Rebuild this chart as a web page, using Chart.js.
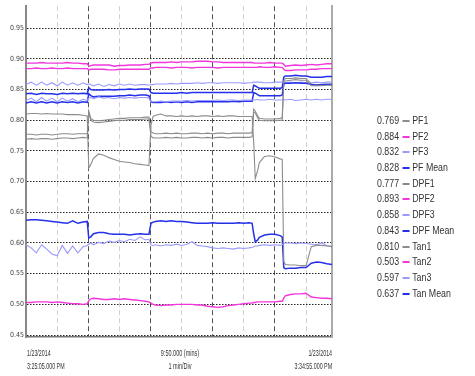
<!DOCTYPE html>
<html><head><meta charset="utf-8">
<script src="https://cdn.jsdelivr.net/npm/chart.js@4/dist/chart.umd.min.js"></script>
<style>
html,body{margin:0;padding:0;background:#fff;width:475px;height:376px;overflow:hidden;}
#c{position:absolute;left:0;top:0;}
.lbl{position:absolute;font-family:'Liberation Sans',Arial,sans-serif;font-size:9.5px;color:#333;white-space:nowrap;line-height:13.3px;}
#legend{position:absolute;left:377px;top:113px;font-family:'Liberation Sans',Arial,sans-serif;font-size:10px;color:#333;}
.row{position:relative;height:15.7px;line-height:15.7px;width:80px;white-space:nowrap;transform:scaleX(0.88);transform-origin:left center;}
.row .v{position:absolute;left:0;top:0;}
.row .s{position:absolute;left:28.5px;top:7px;width:8px;height:2px;}
.row .n{position:absolute;left:40px;top:0;}
</style></head>
<body>
<canvas id="c" width="475" height="376"></canvas>
<div id="legend"></div>
<div class="lbl" id="bl" style="left:27px;top:346px;transform:scaleX(0.56);transform-origin:left top;"></div>
<div class="lbl" id="bc" style="left:80px;width:200px;top:346px;text-align:center;transform:scaleX(0.58);transform-origin:center top;"></div>
<div class="lbl" id="br" style="right:143px;top:346px;text-align:right;transform:scaleX(0.56);transform-origin:right top;"></div>
<script>
// time in seconds from 3:25:05 PM
const times = [
  0,10,20,30,40,50,60,70,80,90,100,110,118,
  121,125,130,140,150,160,170,180,190,200,210,220,230,237,
  241,245,250,260,270,280,290,300,310,320,330,340,350,360,370,380,390,400,410,420,430,436,
  439,442,446,450,460,470,480,490,494,
  497,500,510,520,530,540,550,560,570,580,590];

const pf1 = [
  .769,.770,.769,.770,.770,.769,.770,.771,.771,.770,.771,.772,.771,
  .812,.800,.797,.796,.797,.798,.799,.800,.800,.801,.801,.801,.802,.802,
  .774,.771,.771,.771,.772,.771,.772,.771,.771,.772,.772,.771,.772,.771,.772,.772,.771,.772,.772,.772,.772,.773,
  .813,.812,.805,.800,.799,.799,.799,.800,.800,
  .862,.864,.865,.866,.865,.865,.856,.856,.856,.857,.857];
const pf2 = [
  .884,.884,.885,.884,.884,.885,.884,.884,.885,.884,.884,.884,.884,
  .882,.883,.883,.883,.883,.882,.882,.883,.883,.883,.883,.883,.883,.883,
  .885,.885,.886,.886,.886,.885,.886,.886,.886,.885,.886,.886,.886,.886,.885,.886,.886,.886,.886,.886,.886,.886,
  .886,.886,.886,.887,.886,.886,.887,.886,.886,
  .883,.881,.881,.882,.882,.882,.883,.883,.884,.884,.884];
const pf3 = [
  .832,.836,.830,.837,.831,.836,.830,.836,.831,.835,.830,.834,.832,
  .836,.837,.835,.838,.836,.837,.835,.837,.836,.837,.836,.837,.837,.836,
  .830,.830,.830,.831,.830,.831,.831,.831,.832,.831,.832,.832,.832,.832,.833,.832,.833,.833,.832,.833,.833,.833,
  .833,.833,.834,.833,.833,.834,.833,.833,.833,
  .834,.833,.834,.832,.833,.834,.833,.834,.833,.834,.834];
const pfMean = [
  .828,.830,.828,.830,.828,.830,.828,.830,.829,.830,.828,.830,.829,
  .843,.840,.838,.839,.839,.839,.839,.840,.840,.841,.840,.841,.841,.840,
  .830,.829,.829,.829,.830,.829,.830,.829,.830,.829,.830,.830,.830,.830,.830,.830,.830,.831,.830,.831,.831,.831,
  .845,.844,.842,.840,.840,.840,.840,.840,.841,
  .859,.860,.860,.861,.860,.860,.858,.857,.858,.858,.858];
const dpf1 = [
  .777,.777,.776,.777,.777,.776,.777,.778,.778,.777,.778,.778,.778,
  .815,.803,.800,.799,.800,.801,.802,.803,.803,.804,.804,.804,.805,.805,
  .781,.779,.778,.778,.779,.778,.779,.778,.778,.779,.779,.778,.779,.778,.779,.779,.778,.779,.779,.779,.779,.780,
  .818,.815,.808,.803,.802,.802,.802,.803,.804,
  .864,.868,.868,.869,.868,.868,.859,.858,.858,.859,.859];
const dpf2 = [
  .893,.893,.893,.894,.893,.893,.893,.893,.894,.893,.893,.892,.892,
  .888,.889,.890,.890,.890,.890,.888,.889,.889,.890,.890,.890,.891,.891,
  .893,.894,.894,.894,.894,.895,.894,.895,.895,.895,.896,.896,.896,.895,.895,.894,.894,.894,.894,.894,.894,.894,
  .893,.893,.893,.893,.893,.894,.893,.893,.893,
  .891,.888,.889,.890,.889,.890,.891,.890,.891,.892,.892];
const dpf3 = [
  .858,.862,.857,.862,.857,.861,.856,.862,.857,.861,.857,.861,.858,
  .859,.858,.856,.859,.855,.858,.856,.859,.857,.859,.857,.858,.858,.857,
  .858,.858,.859,.859,.859,.860,.859,.860,.860,.860,.861,.860,.861,.861,.860,.861,.861,.861,.861,.860,.861,.861,
  .862,.862,.862,.862,.861,.861,.862,.862,.862,
  .862,.861,.862,.861,.862,.861,.861,.862,.861,.862,.862];
const dpfMean = [
  .843,.844,.842,.844,.843,.843,.842,.844,.843,.844,.843,.844,.843,
  .853,.850,.849,.849,.849,.850,.849,.850,.850,.851,.850,.851,.851,.851,
  .845,.844,.844,.844,.844,.844,.844,.845,.844,.845,.845,.845,.845,.845,.845,.845,.845,.845,.845,.845,.845,.845,
  .857,.856,.854,.852,.852,.852,.852,.852,.853,
  .870,.872,.872,.873,.872,.872,.870,.870,.870,.871,.871];
const tan1 = [
  .810,.811,.811,.810,.811,.810,.810,.810,.809,.809,.809,.808,.807,
  .722,.728,.738,.745,.743,.739,.736,.733,.732,.731,.729,.728,.727,.726,
  .792,.806,.808,.810,.807,.807,.806,.807,.806,.807,.806,.807,.807,.806,.807,.806,.807,.807,.806,.806,.806,.806,
  .765,.705,.716,.731,.741,.742,.740,.737,.736,
  .570,.565,.564,.564,.563,.563,.594,.596,.596,.595,.594];
const tan2 = [
  .503,.503,.504,.504,.504,.503,.504,.503,.502,.501,.501,.500,.501,
  .506,.509,.510,.509,.508,.508,.509,.508,.509,.508,.507,.506,.505,.504,
  .502,.500,.499,.498,.499,.499,.500,.500,.500,.500,.499,.499,.497,.496,.495,.496,.498,.499,.500,.501,.502,.502,
  .503,.503,.504,.504,.504,.504,.504,.505,.505,
  .510,.514,.516,.517,.517,.518,.512,.511,.510,.510,.509];
const tan3 = [
  .597,.592,.584,.597,.590,.582,.579,.596,.583,.595,.584,.594,.596,
  .598,.600,.597,.601,.599,.603,.601,.604,.602,.606,.604,.610,.605,.606,
  .597,.596,.597,.595,.597,.596,.598,.596,.598,.602,.596,.595,.594,.592,.591,.592,.591,.590,.592,.591,.592,.593,
  .594,.595,.595,.596,.597,.596,.597,.596,.597,
  .599,.600,.600,.599,.600,.599,.598,.597,.600,.596,.594];
const tanMean = [
  .637,.638,.638,.637,.636,.635,.634,.633,.632,.636,.632,.634,.635,
  .608,.610,.615,.617,.617,.615,.614,.614,.614,.613,.614,.615,.614,.614,
  .632,.634,.635,.636,.635,.636,.635,.635,.634,.633,.632,.632,.632,.633,.632,.632,.632,.632,.633,.632,.633,.632,
  .615,.602,.604,.609,.613,.614,.614,.612,.610,
  .560,.558,.559,.559,.560,.560,.567,.569,.568,.566,.565];

const seriesNames = ['PF1','PF2','PF3','PF Mean','DPF1','DPF2','DPF3','DPF Mean','Tan1','Tan2','Tan3','Tan Mean'];
const seriesValues = [pf1,pf2,pf3,pfMean,dpf1,dpf2,dpf3,dpfMean,tan1,tan2,tan3,tanMean];
const yTickValues = [0.45,0.50,0.55,0.60,0.65,0.70,0.75,0.80,0.85,0.90,0.95];
const xGridSeconds = [60,120,180,240,300,360,420,480,540];
const startLabel = ['1/23/2014','3:25:05.000 PM'];
const midLabel = ['9:50.000 (mins)','1 min/Div'];
const endLabel = ['1/23/2014','3:34:55.000 PM'];

const GRAY='#8c8c8c', MAG='#f236dc', LBLUE='#9a9aff', BLUE='#2430ea';
const styleFor = n => n.endsWith('Mean') ? {c:BLUE,w:1.5} :
  /1$/.test(n) ? {c:GRAY,w:1.1} : /2$/.test(n) ? {c:MAG,w:1.4} : {c:LBLUE,w:1.1};

const datasets = seriesNames.map((n,k)=>{
  const st = styleFor(n);
  return {label:n, data: times.map((t,i)=>({x:t,y:seriesValues[k][i]})),
    borderColor:st.c, borderWidth:st.w, pointRadius:0, tension:0, fill:false};
});

const tickFont = {family:"'Liberation Sans Narrow','DejaVu Sans Condensed','Liberation Sans',sans-serif", size:7};

new Chart(document.getElementById('c').getContext('2d'), {
  type:'line',
  data:{datasets},
  options:{
    responsive:false, animation:false, events:[],
    layout:{padding:{left:0,top:5,right:143,bottom:39}},
    plugins:{legend:{display:false}, tooltip:{enabled:false}},
    scales:{
      x:{type:'linear', min:0, max:590,
        afterBuildTicks:s=>{s.ticks = xGridSeconds.map(v=>({value:v}));},
        afterFit:s=>{s.height=0;},
        ticks:{display:false},
        grid:{drawTicks:false, lineWidth:1, color:c=>(c.tick && c.tick.value%120===0)?'#555':'#cfcfcf'},
        border:{display:true, color:'#777', width:1.5, dash:[5,3]}},
      y:{type:'linear', min:0.4468, max:0.9857,
        afterBuildTicks:s=>{s.ticks = yTickValues.map(v=>({value:v}));},
        afterFit:s=>{s.width=26;},
        ticks:{font:tickFont, color:'#444', padding:2, callback:v=>v.toFixed(2)},
        grid:{drawTicks:false, lineWidth:1, color:'#222'},
        border:{display:true, color:'#888', width:2, dash:[1.5,1.5]}},
      y2:{type:'linear', position:'right', min:0, max:1,
        afterFit:s=>{s.width=0;},
        ticks:{display:false}, grid:{display:false},
        border:{display:true, color:'#aaa', width:2}}
    }
  }
});

// legend readout (values at cursor = start of window)
const lg = document.getElementById('legend');
seriesNames.forEach((n,k)=>{
  const st = styleFor(n);
  const r = document.createElement('div'); r.className='row';
  r.innerHTML = '<span class="v">'+seriesValues[k][0].toFixed(3)+'</span><span class="s" style="background:'+st.c+'"></span><span class="n">'+n+'</span>';
  lg.appendChild(r);
});
document.getElementById('bl').innerHTML = startLabel.join('<br>');
document.getElementById('bc').innerHTML = midLabel.join('<br>');
document.getElementById('br').innerHTML = endLabel.join('<br>');
</script>
</body></html>
